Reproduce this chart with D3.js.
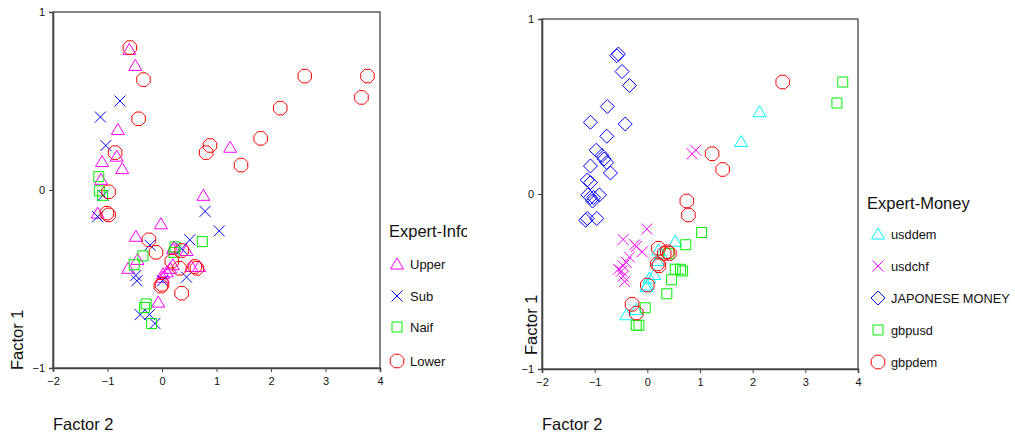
<!DOCTYPE html>
<html><head><meta charset="utf-8">
<script src="https://cdn.jsdelivr.net/npm/d3@7"></script>
<style>body{margin:0;background:#fff}svg{display:block}text{font-family:"Liberation Sans",Arial,sans-serif;fill:#111}</style>
</head><body>
<svg id="c" width="1015" height="436"></svg>
<script>
const xTicks = [-2,-1,0,1,2,3,4];
const yTicks = [-1,0,1];
// Left chart: Expert-Info
const upperX = [-0.60,-0.49,-0.81,-0.83,-1.10,-0.73,-1.12,1.25,0.76,-1.18,-0.02,-0.48,0.20,0.45,0.22,-0.45,-0.62,0.15,0.20,0.54,0.68,0.09,0.02,0.01,-0.07];
const upperY = [0.79,0.70,0.34,0.19,0.16,0.12,0.06,0.24,-0.03,-0.13,-0.19,-0.26,-0.33,-0.34,-0.32,-0.39,-0.44,-0.44,-0.42,-0.43,-0.43,-0.46,-0.47,-0.49,-0.63];
const subX = [-0.77,-1.13,-1.03,-1.08,-1.18,0.79,1.05,-0.22,0.51,0.36,-0.48,-0.46,0.01,0.45,-0.40,-0.23,-0.13];
const subY = [0.50,0.41,0.25,-0.03,-0.15,-0.12,-0.23,-0.31,-0.28,-0.33,-0.48,-0.51,-0.51,-0.49,-0.70,-0.70,-0.75];
const naifX = [-1.16,-1.15,-1.09,0.74,-0.35,0.24,0.22,-0.51,-0.29,-0.32,-0.19];
const naifY = [0.075,-0.005,-0.03,-0.29,-0.37,-0.32,-0.35,-0.42,-0.64,-0.66,-0.75];
const lowerX = [-0.59,-0.34,-0.43,-0.86,0.88,0.81,1.45,2.62,3.77,3.66,2.17,1.81,-0.98,-1.01,-0.98,-0.24,-0.11,0.36,0.18,0.32,0.60,0.64,0.00,-0.02,0.36];
const lowerY = [0.80,0.62,0.40,0.21,0.25,0.21,0.14,0.64,0.64,0.52,0.46,0.29,-0.01,-0.13,-0.14,-0.28,-0.35,-0.34,-0.40,-0.44,-0.43,-0.44,-0.53,-0.54,-0.58];
// Right chart: Expert-Money
const usddemX = [2.13,1.78,0.53,0.21,0.26,0.19,0.13,0.04,0.00,-0.02,-0.21,-0.40];
const usddemY = [0.47,0.30,-0.27,-0.32,-0.34,-0.38,-0.46,-0.48,-0.52,-0.53,-0.66,-0.69];
const usdchfX = [0.85,0.92,-0.01,-0.46,-0.24,-0.21,-0.10,-0.34,-0.40,-0.46,-0.55,-0.49,-0.46,-0.43];
const usdchfY = [0.23,0.25,-0.20,-0.26,-0.29,-0.30,-0.33,-0.36,-0.39,-0.41,-0.43,-0.44,-0.47,-0.50];
const japX = [-0.58,-0.55,-0.48,-0.34,-0.76,-1.08,-0.42,-0.77,-0.97,-0.86,-0.82,-0.77,-1.08,-0.70,-1.14,-1.08,-1.13,-1.08,-1.04,-0.91,-1.02,-1.14,-1.17,-0.96];
const japY = [0.79,0.80,0.70,0.62,0.50,0.41,0.40,0.33,0.25,0.22,0.20,0.18,0.16,0.12,0.08,0.065,-0.005,-0.02,-0.04,-0.005,-0.02,-0.14,-0.15,-0.14];
const gbpusdX = [3.71,3.60,1.03,0.73,0.41,0.53,0.63,0.67,0.46,0.37,-0.04,-0.16,-0.21];
const gbpusdY = [0.64,0.52,-0.22,-0.29,-0.34,-0.43,-0.43,-0.44,-0.49,-0.57,-0.65,-0.75,-0.75];
const gbpdemX = [2.57,1.23,1.43,0.75,0.78,0.21,0.38,0.42,0.32,0.19,0.22,0.00,-0.29,-0.21];
const gbpdemY = [0.64,0.23,0.14,-0.04,-0.12,-0.31,-0.33,-0.34,-0.34,-0.40,-0.41,-0.52,-0.63,-0.68];

const shapes = {
  tri: "M0,-6L6.5,5L-6.5,5Z",
  x: "M-5.5,-5.5L5.5,5.5M-5.5,5.5L5.5,-5.5",
  sq: "M-5,-5H5V5H-5Z",
  diam: "M0,-7L7,0L0,7L-7,0Z",
  oct: (()=>{const r=7.3;let p=[];for(let i=0;i<8;i++){const a=Math.PI/8+i*Math.PI/4;p.push([r*Math.cos(a),r*Math.sin(a)]);}return "M"+p.map(d=>d[0].toFixed(2)+","+d[1].toFixed(2)).join("L")+"Z";})()
};

const svg = d3.select("#c");

function panel(cfg){
  const x = d3.scaleLinear().domain([-2,4]).range([cfg.x0,cfg.x1]);
  const y = d3.scaleLinear().domain([-1,1]).range([cfg.y0,cfg.y1]);
  const g = svg.append("g");
  g.append("rect").attr("x",cfg.x0).attr("y",cfg.y1).attr("width",cfg.x1-cfg.x0).attr("height",cfg.y0-cfg.y1)
    .attr("fill","none").attr("stroke","#444").attr("stroke-width",1.3);
  const xa = g.append("g").attr("transform",`translate(0,${cfg.y0})`)
    .call(d3.axisBottom(x).tickValues(xTicks).tickFormat(d3.format("d")).tickSize(4).tickPadding(5));
  const ya = g.append("g").attr("transform",`translate(${cfg.x0},0)`)
    .call(d3.axisLeft(y).tickValues(yTicks).tickFormat(d3.format("d")).tickSize(4).tickPadding(4));
  [xa,ya].forEach(a=>{a.select(".domain").attr("stroke","#444").attr("stroke-width",1.6);
    a.selectAll(".tick line").attr("stroke","#444");
    a.selectAll("text").attr("font-size",11).attr("fill","#111").attr("font-family","Liberation Sans, Arial, sans-serif");});
  cfg.series.forEach(s=>{
    const pts = s.xs.map((v,i)=>[v,s.ys[i]]);
    g.append("g").selectAll("path").data(pts).join("path")
      .attr("transform",d=>`translate(${x(d[0])},${y(d[1])})`)
      .attr("d",shapes[s.shape]).attr("fill","none").attr("stroke",s.color).attr("stroke-width",1);
  });
  g.append("text").attr("transform",`translate(${cfg.f1x},${cfg.f1y}) rotate(-90)`).attr("font-size",16.5).text("Factor 1");
  g.append("text").attr("x",cfg.x0).attr("y",430).attr("font-size",16.5).text("Factor 2");
  const lg = g.append("g");
  if(cfg.clip){
    svg.append("clipPath").attr("id","lclip").append("rect").attr("x",cfg.lx-10).attr("y",0).attr("width",cfg.clip-(cfg.lx-10)).attr("height",436);
    lg.attr("clip-path","url(#lclip)");
  }
  lg.append("text").attr("x",cfg.lx).attr("y",cfg.ltY).attr("font-size",16.5).text(cfg.title);
  cfg.series.forEach((s,i)=>{
    const yy = cfg.lItems[i];
    lg.append("path").attr("transform",`translate(${cfg.lsx},${yy})`).attr("d",shapes[s.shape])
      .attr("fill","none").attr("stroke",s.color).attr("stroke-width",1);
    lg.append("text").attr("x",cfg.lsx+13).attr("y",yy+4.5).attr("font-size",cfg.lfs).text(s.name);
  });
}

panel({x0:53,x1:380,y0:368,y1:12,f1x:23,f1y:370,lx:389,ltY:237,title:"Expert-Info",clip:467,lsx:397,lfs:13,
  lItems:[264,296,327,361],
  series:[
    {name:"Upper",xs:upperX,ys:upperY,shape:"tri",color:"#ff00ff"},
    {name:"Sub",xs:subX,ys:subY,shape:"x",color:"#0000ff"},
    {name:"Naif",xs:naifX,ys:naifY,shape:"sq",color:"#00ee00"},
    {name:"Lower",xs:lowerX,ys:lowerY,shape:"oct",color:"#ff0000"}
  ]});
panel({x0:542,x1:858,y0:369,y1:19,f1x:537,f1y:355,lx:867,ltY:209,title:"Expert-Money",clip:null,lsx:878,lfs:12.8,
  lItems:[234,266,298,330,362],
  series:[
    {name:"usddem",xs:usddemX,ys:usddemY,shape:"tri",color:"#00ffff"},
    {name:"usdchf",xs:usdchfX,ys:usdchfY,shape:"x",color:"#ff00ff"},
    {name:"JAPONESE MONEY",xs:japX,ys:japY,shape:"diam",color:"#0000ff"},
    {name:"gbpusd",xs:gbpusdX,ys:gbpusdY,shape:"sq",color:"#00ee00"},
    {name:"gbpdem",xs:gbpdemX,ys:gbpdemY,shape:"oct",color:"#ff0000"}
  ]});
</script>
</body></html>
